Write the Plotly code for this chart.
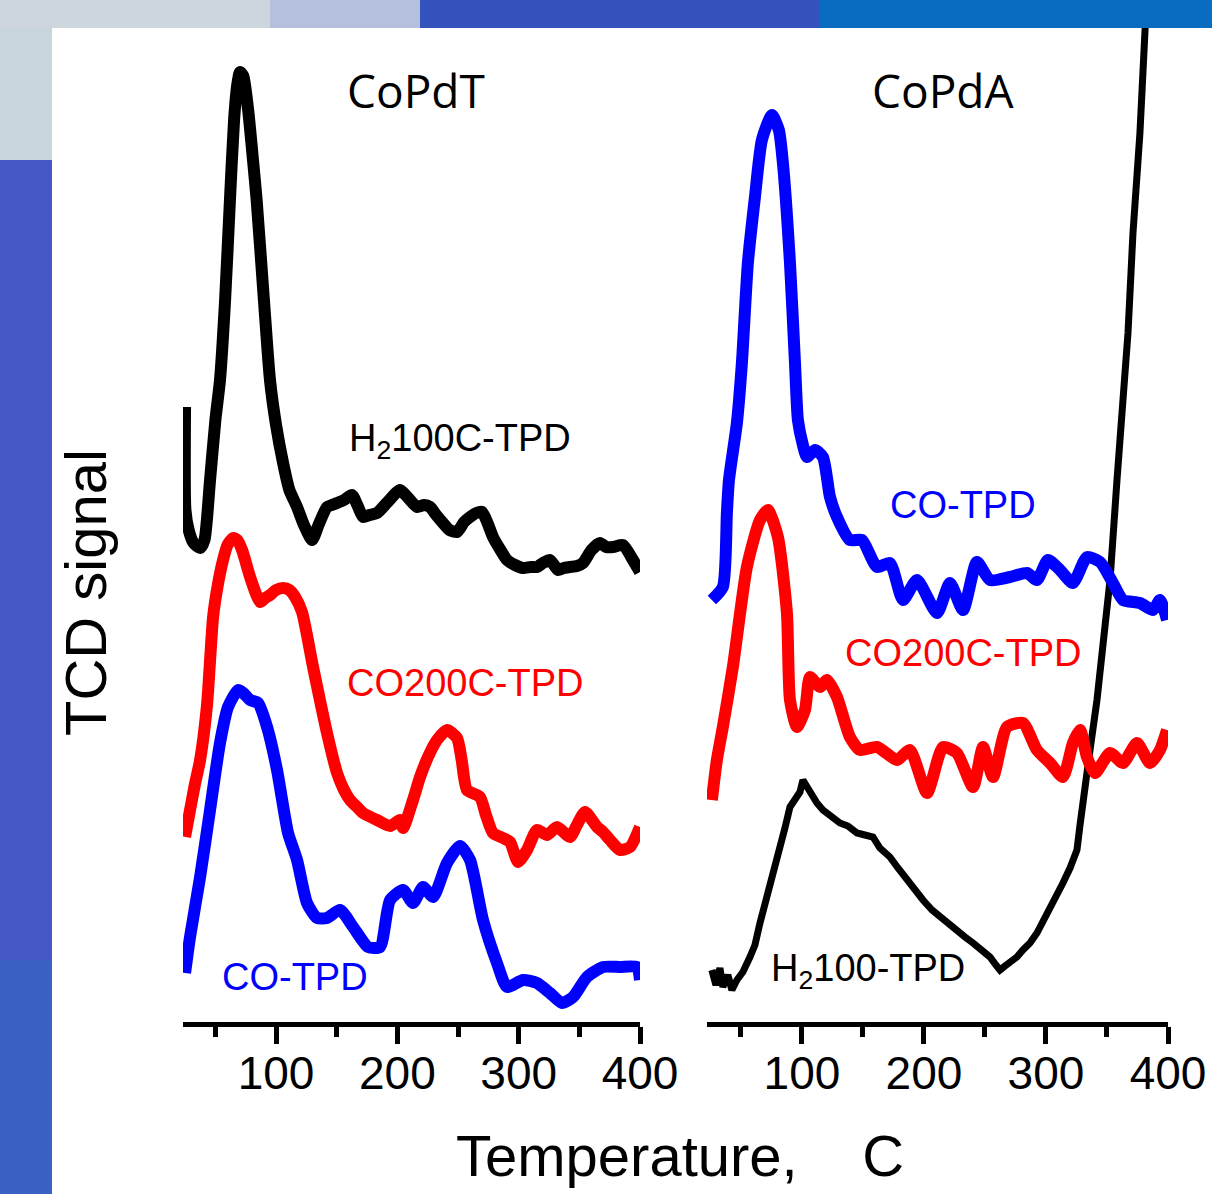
import plotly.graph_objects as go

# ---------------- data (temperature in C, TCD signal in arbitrary units) ----------------
# CoPdT panel
t_copdt_h2 = [25.0, 25.3, 28, 32, 37.4, 41, 45.6, 50, 53.8, 58, 62, 65.4, 68, 70.3, 73, 77, 81, 84, 90, 95,
              100, 105.8, 111, 117.3, 123, 129.7, 135, 142, 146, 150.3, 156, 162.6, 167, 171.7, 177, 183.2,
              192, 202.2, 209, 216.2, 222, 226.9, 232, 237.6, 243, 249.2, 255, 259.9, 265, 269.8, 274,
              278.8, 285, 290.4, 297, 303.6, 310, 315.1, 320, 325.8, 332.4, 337, 342.3, 348, 353, 360,
              367, 372, 377.8, 386, 394.2, 400]
s_copdt_h2 = [61.5, 51.2, 49.2, 47.9, 47.4, 48.2, 54.2, 60.2, 64.2, 72.2, 82.2, 90.2, 93.7, 95.0, 94.6, 91.2,
              86.2, 82.2, 72.2, 64.2, 59.7, 55.9, 53.2, 51.5, 49.7, 48.2, 49.7, 51.5, 51.7, 51.9, 52.2, 52.7,
              51.7, 50.5, 50.7, 50.9, 52.0, 53.2, 52.4, 51.5, 51.7, 51.5, 50.7, 49.9, 49.2, 49.0, 50.0, 50.5,
              50.9, 51.0, 50.0, 48.5, 47.2, 46.2, 45.7, 45.4, 45.5, 45.5, 45.9, 46.2, 45.2, 45.4, 45.5, 45.6,
              45.9, 47.2, 47.9, 47.5, 47.5, 47.7, 46.2, 45.0]

t_copdt_co200 = [25.0, 29.1, 33, 37.4, 43.1, 48.1, 52, 56.3, 60, 64.6, 68, 72, 78.6, 86.8, 91, 95.1, 100,
                 105.8, 111, 115.7, 121.4, 130.5, 142, 150.3, 156, 161, 166.8, 171.7, 183.2, 194, 202.2,
                 204.7, 212.9, 218.7, 226, 232.7, 240.9, 249.2, 253, 257.4, 268.1, 273, 278.8, 287.1,
                 292.9, 299.5, 306.9, 315.1, 323.4, 331.6, 342.3, 348, 354.7, 364.6, 369.5, 375.3, 383.5,
                 391.8, 400]
s_copdt_co200 = [18.5, 21.2, 23.7, 26.2, 31.7, 40.5, 43.7, 46.2, 47.7, 48.4, 48.2, 47.2, 44.5, 42.0, 42.4,
                 42.7, 43.2, 43.4, 43.2, 42.5, 41.0, 35.5, 28.9, 24.9, 23.2, 22.2, 21.5, 20.9, 20.2, 19.6,
                 20.2, 19.4, 22.2, 24.5, 26.7, 28.2, 29.2, 28.4, 26.2, 23.2, 22.5, 20.7, 18.9, 18.4, 18.0,
                 16.0, 17.2, 19.2, 18.7, 19.5, 18.5, 19.7, 21.0, 19.5, 19.0, 18.2, 17.2, 17.5, 19.5]

t_copdt_co = [25.0, 29.1, 37.4, 45.6, 53.8, 60.4, 68.7, 73, 78.6, 85.2, 92.6, 100.8, 109.9, 117.3, 125.5,
              133.8, 142, 152.7, 163.5, 175.8, 185.7, 194, 204.7, 212.9, 221.2, 229.4, 240.9, 251.6,
              259.9, 270.6, 282.1, 290.4, 303.6, 315.1, 325.8, 335.7, 344.8, 356.3, 369.5, 383.5, 397.5, 400]
s_copdt_co = [4.9, 8.5, 14.5, 21.2, 27.9, 31.5, 33.2, 32.9, 32.2, 31.9, 29.5, 25.2, 18.9, 16.2, 11.9, 10.4,
              10.4, 11.2, 9.5, 7.5, 7.5, 12.2, 13.2, 11.9, 13.5, 12.5, 15.9, 17.6, 16.2, 10.2, 5.9, 3.5, 4.2,
              3.9, 2.9, 1.9, 2.5, 4.5, 5.5, 5.5, 5.5, 4.2]

# CoPdA panel
t_copda_co = [26.2, 35.2, 38.5, 40.2, 46.7, 50.8, 55.7, 61.5, 67.2, 75.4, 81.1, 84.4, 90.2, 94.3, 96.7,
              100.8, 104.1, 110.7, 117.2, 123.0, 128.7, 139.3, 149.2, 161.5, 172.1, 182.8, 194.3, 210.7,
              221.3, 232.0, 243.4, 254.1, 270.5, 284.4, 292.6, 301.6, 311.5, 322.1, 333.6, 344.3, 354.9,
              363.1, 377.0, 387.7, 393.4, 399.2]
s_copda_co = [42.2, 43.5, 50.9, 54.2, 59.9, 65.9, 75.9, 82.5, 88.2, 90.7, 89.2, 85.9, 75.9, 65.9, 60.2,
              57.7, 56.5, 57.2, 56.5, 52.5, 50.5, 48.2, 48.2, 45.5, 45.9, 42.2, 44.2, 40.9, 43.9, 41.2,
              46.0, 44.2, 44.5, 44.9, 44.2, 46.2, 45.2, 43.9, 46.5, 46.0, 43.9, 42.2, 41.9, 41.2, 42.2, 40.2]

t_copda_co200 = [26.2, 30.3, 35.2, 43.4, 54.9, 65.6, 72.1, 80.3, 87.7, 90.2, 95.9, 102.5, 106.6, 114.8,
                 120.5, 128.7, 139.3, 147.5, 161.5, 177.9, 188.5, 202.5, 215.6, 227.0, 240.2, 248.4,
                 256.6, 268.0, 281.1, 292.6, 303.3, 313.9, 322.1, 327.9, 333.6, 340.2, 352.5, 363.1,
                 374.6, 385.2, 393.4, 399.2]
s_copda_co200 = [22.2, 26.2, 29.5, 35.5, 45.5, 50.2, 51.2, 48.5, 40.9, 32.2, 29.5, 31.2, 34.5, 33.5, 34.2,
                 32.5, 28.5, 27.2, 27.5, 26.2, 27.2, 22.9, 27.5, 26.9, 23.5, 27.5, 24.5, 29.5, 29.9, 27.2,
                 25.9, 24.5, 27.9, 29.2, 26.5, 24.9, 26.9, 25.9, 27.9, 25.9, 27.2, 29.2]

t_copda_h2 = [26.2, 29.5, 32.8, 35.2, 39.3, 42.6, 46.7, 51.6, 57.4, 61.5, 65.6, 69.7, 73.8, 77.9, 82.0,
              86.1, 90.2, 94.3, 98.4, 100.8, 104.1, 108.2, 112.3, 117.2, 123.0, 131.1, 137.7, 145.1, 151.6,
              158.2, 163.9, 172.1, 178.7, 186.1, 192.6, 199.2, 206.6, 213.1, 219.7, 227.0, 233.6, 240.2,
              247.5, 254.1, 259.0, 262.3, 266.4, 270.5, 276.2, 281.1, 286.9, 292.6, 297.5, 303.3, 309.0,
              313.9, 319.7, 325.4, 327.9, 330.3, 333.6, 336.1, 341.8, 346.7, 352.5, 358.2, 363.1, 367.2,
              371.3, 377.0, 381.1, 383.6]
s_copda_h2 = [5.2, 3.7, 5.4, 3.5, 4.7, 3.2, 4.2, 5.0, 6.5, 7.7, 9.9, 11.7, 13.9, 15.7, 17.2, 19.4, 21.5,
              22.4, 23.0, 24.2, 23.5, 22.7, 21.9, 21.2, 20.7, 19.9, 19.6, 18.9, 18.7, 18.5, 17.4, 16.5,
              15.4, 14.2, 13.0, 12.2, 11.2, 10.5, 9.9, 9.2, 8.5, 7.9, 7.2, 6.5, 5.7, 5.2, 5.6, 5.9, 6.5,
              7.2, 7.9, 8.9, 10.0, 11.2, 12.5, 13.9, 15.4, 17.2, 19.7, 22.2, 24.7, 27.2, 32.2, 37.2, 44.2,
              54.2, 62.7, 68.9, 78.9, 88.9, 99.0, 105.2]

tick_vals = [100, 200, 300, 400]
tick_text = ["100", "200", "300", "400"]
panel_titles = ["CoPdT", "CoPdA"]

# ---------------- figure ----------------
W, H = 1212, 1194
BLACK, RED, BLUE = "#000000", "#ff0000", "#0000ff"
LAB_FONT = "Liberation Sans, Arial, sans-serif"

fig = go.Figure()

def add(x, y, color, width, xa, ya, shape="spline"):
    fig.add_trace(go.Scatter(x=x, y=y, mode="lines", xaxis=xa, yaxis=ya,
                             line=dict(color=color, width=width, shape=shape, smoothing=0.6),
                             showlegend=False, hoverinfo="skip"))

add(t_copdt_h2, s_copdt_h2, BLACK, 12, "x", "y")
add(t_copdt_co200, s_copdt_co200, RED, 12, "x", "y")
add(t_copdt_co, s_copdt_co, BLUE, 12, "x", "y")
add(t_copda_h2, s_copda_h2, BLACK, 7, "x2", "y2", shape="linear")
add(t_copda_co200, s_copda_co200, RED, 12, "x2", "y2")
add(t_copda_co, s_copda_co, BLUE, 12, "x2", "y2")

y_bottom = (H - 1022) / H
y_top = (H - 28) / H

xcommon = dict(
    showline=True, linewidth=5, linecolor="black", mirror=False,
    ticks="outside", ticklen=17, tickwidth=5, tickcolor="black",
    tickvals=tick_vals, ticktext=tick_text, ticklabelstandoff=-10,
    tickfont=dict(family=LAB_FONT, size=46, color="black"),
    showgrid=False, zeroline=False, fixedrange=True, automargin=False,
    minor=dict(ticks="outside", ticklen=10, tickwidth=5, tickcolor="black",
               dtick=50, tick0=0, showgrid=False),
)
ycommon = dict(visible=False, range=[0, 99.4], domain=[y_bottom, y_top],
               showgrid=False, zeroline=False, fixedrange=True)

fig.update_layout(
    width=W, height=H, autosize=False,
    margin=dict(l=0, r=0, t=0, b=0, pad=0, autoexpand=False),
    paper_bgcolor="white", plot_bgcolor="rgba(0,0,0,0)",
    xaxis=dict(domain=[183 / W, 640 / W], range=[23.3, 400], anchor="y", **xcommon),
    yaxis=dict(anchor="x", **ycommon),
    xaxis2=dict(domain=[707 / W, 1168 / W], range=[22.2, 400], anchor="y2", **xcommon),
    yaxis2=dict(anchor="x2", **ycommon),
)

# background strips (photo-like frame around the white panel)
def rect(x0, x1, y0, y1, color):
    fig.add_shape(type="rect", xref="paper", yref="paper",
                  x0=x0 / W, x1=x1 / W, y0=1 - y1 / H, y1=1 - y0 / H,
                  fillcolor=color, line=dict(width=0), layer="above")

rect(0, 52, 160, H, "#4657c6")
rect(0, 52, 960, H, "#3a62c4")
rect(0, 52, 0, 160, "#c8d5da")
rect(0, 270, 0, 28, "#ccd6dc")
rect(270, 420, 0, 28, "#b4c0dc")
rect(420, 820, 0, 28, "#3553bd")
rect(820, W, 0, 28, "#0a6cc0")

# panel titles
for xa, title in zip(["x", "x2"], panel_titles):
    fig.add_annotation(x=215.5, y=93.2, xref=xa, yref="y" if xa == "x" else "y2",
                       text=title, showarrow=False, xanchor="center", yanchor="middle",
                       font=dict(family="Open Sans, Noto Sans, sans-serif", size=46, color="black"))

# curve labels
labels = [
    ("x", "y", 251.6, 58.1, "H<sub>2</sub>100C-TPD", BLACK),
    ("x", "y", 255.8, 33.9, "CO200C-TPD", RED),
    ("x", "y", 115.7, 4.5, "CO-TPD", BLUE),
    ("x2", "y2", 232.0, 51.7, "CO-TPD", BLUE),
    ("x2", "y2", 232.8, 36.9, "CO200C-TPD", RED),
    ("x2", "y2", 154.1, 5.1, "H<sub>2</sub>100-TPD", BLACK),
]
for xa, ya, x, y, txt, col in labels:
    fig.add_annotation(x=x, y=y, xref=xa, yref=ya, text=txt, showarrow=False,
                       xanchor="center", yanchor="middle",
                       font=dict(family=LAB_FONT, size=38, color=col))

# axis titles
fig.add_annotation(x=85 / W, y=1 - 593 / H, xref="paper", yref="paper", text="TCD signal",
                   textangle=-90, showarrow=False, xanchor="center", yanchor="middle",
                   font=dict(family=LAB_FONT, size=58, color="black"))
fig.add_annotation(x=680 / W, y=1 - 1155 / H, xref="paper", yref="paper",
                   text="Temperature,\u00a0\u00a0\u00a0\u00a0C",
                   showarrow=False, xanchor="center", yanchor="middle",
                   font=dict(family=LAB_FONT, size=58, color="black"))

fig.write_html("out.html", config={"displayModeBar": False, "responsive": False})
